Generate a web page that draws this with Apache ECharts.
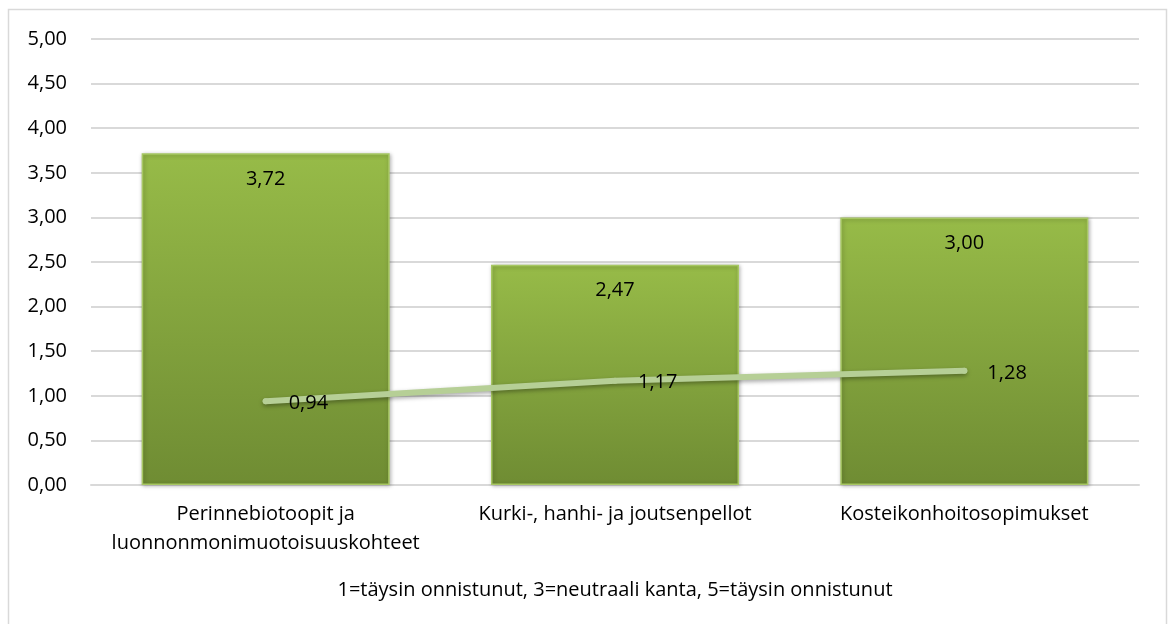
<!DOCTYPE html>
<html><head><meta charset="utf-8">
<script src="https://cdn.jsdelivr.net/npm/echarts@6/dist/echarts.min.js"></script>
<style>html,body{margin:0;padding:0;background:#fff}#c{width:1171px;height:624px}</style>
</head><body><div id="c"></div>
<script>
const categories = ['Perinnebiotoopit ja\nluonnonmonimuotoisuuskohteet', 'Kurki-, hanhi- ja joutsenpellot', 'Kosteikonhoitosopimukset'];
const barValues = [3.72, 2.47, 3.00];
const lineValues = [0.94, 1.17, 1.28];
const yTicks = {min: 0, max: 5, interval: 0.5};
const axisTitle = '1=täysin onnistunut, 3=neutraali kanta, 5=täysin onnistunut';

const fmt = v => v.toFixed(2).replace('.', ',');
const FONT = 'Open Sans';
const FS = 20;
const chart = echarts.init(document.getElementById('c'));
chart.setOption({
  animation: false,
  textStyle: {fontFamily: FONT},
  graphic: [{type: 'rect', shape: {x: 8.5, y: 9.5, width: 1158, height: 640}, style: {fill: 'none', stroke: '#d9d9d9', lineWidth: 1.5}, z: -1}],
  grid: {left: 91, right: 32, top: 39, bottom: 139},
  xAxis: {
    type: 'category', data: categories,
    axisLine: {lineStyle: {color: '#d9d9d9', width: 2}},
    axisTick: {show: false},
    axisLabel: {color: '#000', fontSize: FS, lineHeight: 29, margin: 15, fontFamily: FONT, interval: 0, hideOverlap: false},
    name: axisTitle, nameLocation: 'middle', nameGap: 95,
    nameTextStyle: {color: '#000', fontSize: FS, fontFamily: FONT}
  },
  yAxis: {
    type: 'value', min: yTicks.min, max: yTicks.max, interval: yTicks.interval,
    axisLine: {show: false}, axisTick: {show: false},
    splitLine: {lineStyle: {color: '#d9d9d9', width: 2}},
    axisLabel: {color: '#000', fontSize: FS, margin: 24, formatter: fmt, fontFamily: FONT}
  },
  series: [{
    type: 'bar', data: barValues, barWidth: '71%',
    itemStyle: {
      color: new echarts.graphic.LinearGradient(0, 0, 0, 1, [
        {offset: 0, color: '#97bb48'}, {offset: 1, color: '#6f8c33'}
      ]),
      borderColor: '#a7c763', borderWidth: 1.5,
      shadowColor: 'rgba(0,0,0,0.3)', shadowBlur: 4, shadowOffsetX: 1, shadowOffsetY: 1
    },
    label: {show: true, position: 'insideTop', distance: 16, color: '#000', fontSize: FS, formatter: p => fmt(p.value), fontFamily: FONT}
  }, {
    type: 'line', data: lineValues, symbol: 'circle', symbolSize: 6, showSymbol: true,
    itemStyle: {color: '#b6cf96'},
    lineStyle: {color: '#b6cf96', width: 6, cap: 'round', shadowColor: 'rgba(0,0,0,0.35)', shadowBlur: 4, shadowOffsetY: 2},
    label: {show: true, position: 'right', distance: 20, offset: [0, 2], color: '#000', fontSize: FS, formatter: p => fmt(p.value), fontFamily: FONT},
    z: 3
  }]
});
</script></body></html>
